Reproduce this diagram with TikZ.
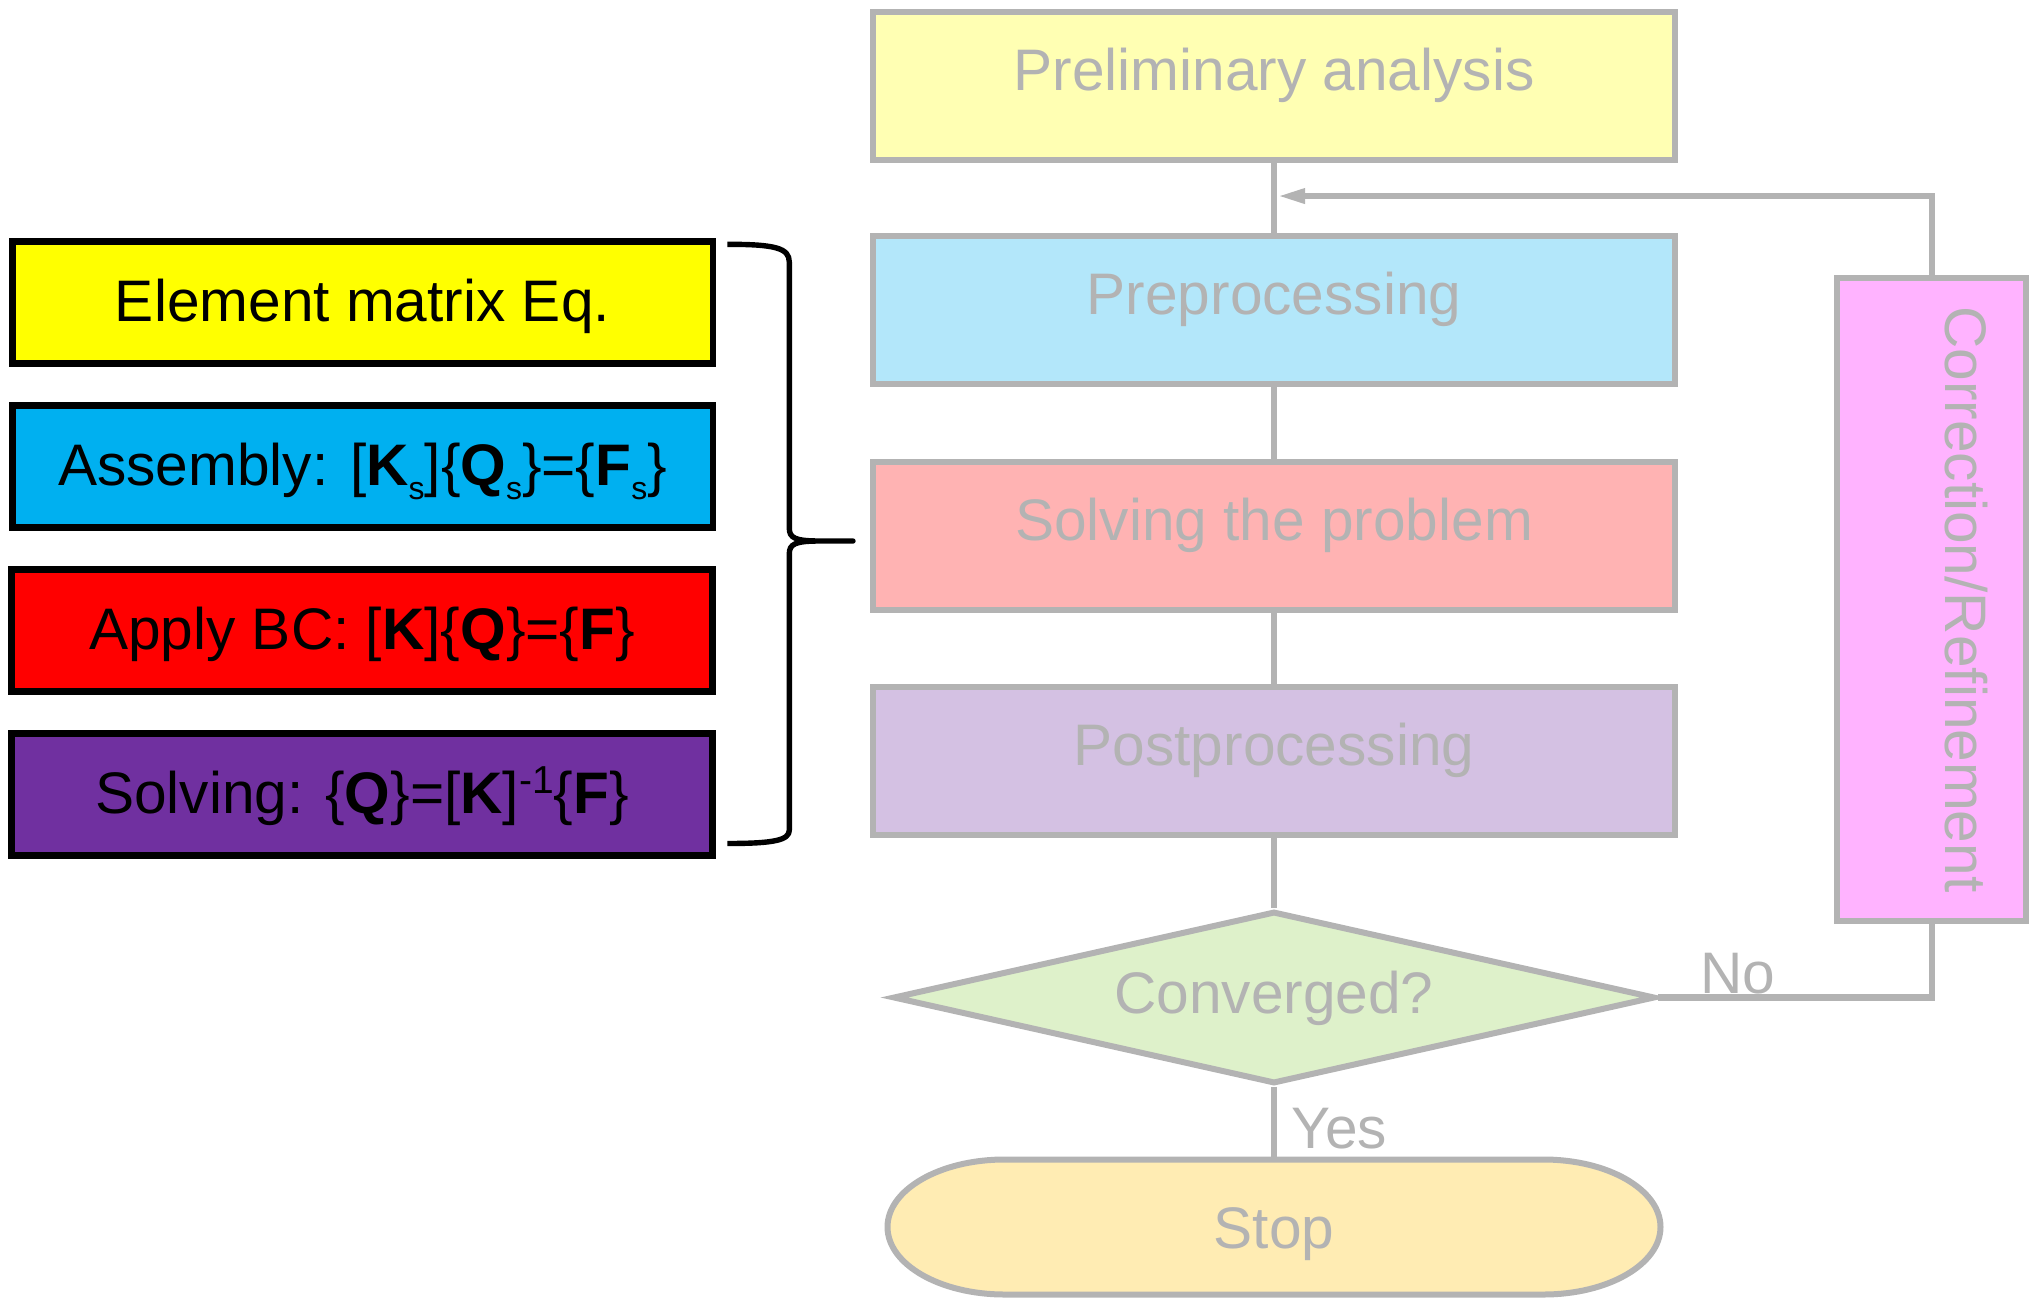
\documentclass[tikz,border=0pt]{standalone}
\usepackage{fontspec}
\setmainfont{Liberation Sans}
\usetikzlibrary{shapes.geometric,arrows.meta,calc}
\definecolor{linegray}{HTML}{B3B3B3}
\definecolor{textgray}{HTML}{B3B3B3}
\definecolor{cyellow}{HTML}{FFFF00}
\definecolor{ccyan}{HTML}{00B0F0}
\definecolor{cred}{HTML}{FF0000}
\definecolor{cpurple}{HTML}{7030A0}
\definecolor{fprelim}{HTML}{FFFFB3}
\definecolor{fprep}{HTML}{B3E7FA}
\definecolor{fsolve}{HTML}{FFB3B3}
\definecolor{fpost}{HTML}{D4C1E3}
\definecolor{fdia}{HTML}{DEF1CA}
\definecolor{fstop}{HTML}{FFECB3}
\definecolor{fcorr}{HTML}{FFB3FF}
\newcommand\mysub[1]{\raisebox{-7pt}{\fontsize{16}{16}\selectfont #1}}
\newcommand\mysup[1]{\raisebox{10pt}{\fontsize{19.5}{19.5}\selectfont #1}}
\begin{document}
\begin{tikzpicture}[x=0.5pt,y=-0.5pt,
  every node/.style={font=\fontsize{29.3}{35}\selectfont},
  lbox/.style={draw=black, line width=3.3pt, minimum width=350.3pt, minimum height=60.8pt,
    inner sep=0pt, text height=21pt, text depth=2pt},
  rbox/.style={draw=linegray, line width=3pt, minimum width=400.9pt, minimum height=74pt, inner sep=0pt},
  gtext/.style={text=textgray, inner sep=0pt, text height=21pt, text depth=0pt},
  conn/.style={draw=linegray, line width=3.2pt},
  bracepath/.style={draw=black, line width=2.7pt, line join=round}]
\useasboundingbox (0,0) rectangle (2030,1301);

% left boxes
\node[lbox, fill=cyellow] (elem) at (362.5,302.5) {Element matrix Eq.};
\node[lbox, fill=ccyan] (asm) at (362.5,466.5) {Assembly: [\textbf{K}\mysub{s}]\{\textbf{Q}\mysub{s}\}=\{\textbf{F}\mysub{s}\}};
\node[lbox, fill=cred] (bc) at (362,630.5) {Apply BC: [\textbf{K}]\{\textbf{Q}\}=\{\textbf{F}\}};
\node[lbox, fill=cpurple] (solv) at (362,794.5) {Solving: \{\textbf{Q}\}=[\textbf{K}]\mysup{-1}\{\textbf{F}\}};

% brace
\coordinate (bracetip) at (853,541);
\draw[bracepath] (727.3,244.3) .. controls (775,244.3) and (789.3,248) .. (789.3,262)
  -- (789.3,528) .. controls (789.3,538) and (795,541) .. (820,541) -- (bracetip)
  -- (820,541) .. controls (795,541) and (789.3,544) .. (789.3,554)
  -- (789.3,830) .. controls (789.3,840) and (775,843.5) .. (727.3,843.5);

% right flow boxes
\node[rbox, fill=fprelim] (prelim) at (1274,86) {};
\node[gtext] (prelimtxt) at ($(prelim.center)+(0,-16.5)$) {Preliminary analysis};
\node[rbox, fill=fprep] (prep) at (1274,310.3) {};
\node[gtext] (preptxt) at ($(prep.center)+(0,-16.5)$) {Preprocessing};
\node[rbox, fill=fsolve] (solve) at (1274,535.6) {};
\node[gtext] (solvetxt) at ($(solve.center)+(0,-16.5)$) {Solving the problem};
\node[rbox, fill=fpost] (post) at (1274,760.9) {};
\node[gtext] (posttxt) at ($(post.center)+(0,-16.5)$) {Postprocessing};

% decision
\node[diamond, draw=linegray, line width=3pt, fill=fdia, minimum width=381pt, minimum height=86.2pt, inner sep=0pt] (dia) at (1274,997.5) {};
\node[gtext] (diatxt) at ($(dia.center)+(0,-5)$) {Converged?};

% stop terminal
\coordinate (stopc) at (1274,1227);
\path[draw=linegray, line width=3pt, fill=fstop]
  ($(stopc)+(-269.5,-67.5)$) -- ($(stopc)+(269.5,-67.5)$)
  arc[start angle=90, end angle=-90, x radius=58.5pt, y radius=33.75pt]
  -- ($(stopc)+(-269.5,67.5)$)
  arc[start angle=270, end angle=90, x radius=58.5pt, y radius=33.75pt] -- cycle;
\node[minimum width=386.5pt, minimum height=67.5pt, inner sep=0pt] (stop) at (stopc) {};
\node[gtext] (stoptxt) at (stopc) {Stop};

% correction box
\node[rbox, fill=fcorr, minimum width=94.75pt, minimum height=321.25pt] (corr) at (1931.7,599.3) {};
\node[gtext, rotate=-90] (corrtxt) at (1966,599.4) {Correction/Refinement};

% connectors
\draw[conn] (prelim.south) -- (prep.north);
\draw[conn] (prep.south) -- (solve.north);
\draw[conn] (solve.south) -- (post.north);
\draw[conn] (post.south) -- (dia.north);
\draw[conn] (dia.south) -- (stop.north);
\draw[conn] (dia.east) -| (corr.south);
\coordinate (join) at ($(prelim.south)!0.47!(prep.north)+(3.2,0)$);
\draw[conn, -{Triangle[length=14pt,width=7pt]}] (corr.north) |- (join);

% labels
\node[gtext, anchor=base west] (nolbl) at (1700,993.3) {No};
\node[gtext, anchor=base west] (yeslbl) at (1291,1148) {Yes};
\end{tikzpicture}
\end{document}
